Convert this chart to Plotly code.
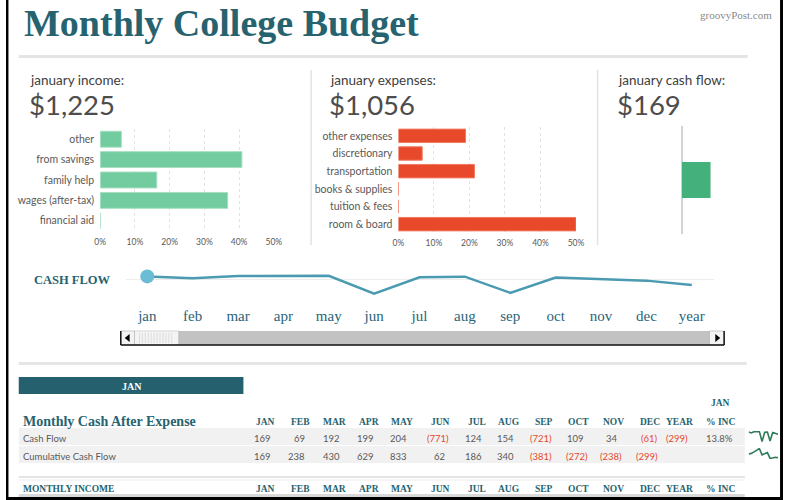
import plotly.graph_objects as go

W, H = 792, 500


def X(px):
    return px / W


def Y(py):
    return 1 - py / H


# ---------------- data ----------------
income_cats = ["other", "from savings", "family help", "wages (after-tax)", "financial aid"]
income_pct = [6.1, 40.8, 16.3, 36.7, 0.0]
expense_cats = ["other expenses", "discretionary", "transportation",
                "books & supplies", "tuition & fees", "room & board"]
expense_pct = [18.9, 6.7, 21.4, 0.0, 0.0, 50.0]
pct_ticks = [0, 10, 20, 30, 40, 50]
pct_tick_labels = ["0%", "10%", "20%", "30%", "40%", "50%"]
income_total = 1225
expense_total = 1056
months = ["jan", "feb", "mar", "apr", "may", "jun", "jul", "aug", "sep", "oct", "nov", "dec"]
cash_flow = [169, 69, 192, 199, 204, -771, 124, 154, -721, 109, 34, -61]
col_heads = ["JAN", "FEB", "MAR", "APR", "MAY", "JUN", "JUL", "AUG", "SEP", "OCT", "NOV", "DEC", "YEAR", "% INC"]
sel = 0  # selected month (jan)

cumulative = []
run = 0
for v in cash_flow:
    run += v
    cumulative.append(run)
year_total = sum(cash_flow)
line_labels = months + ["year"]
line_values = cash_flow + [year_total]
pct_inc = cash_flow[sel] / income_total * 100

# ---------------- styles ----------------
TEAL = "#26636f"
SERIF = "Liberation Serif"
SANS = "Lato"
GRAY_TXT = "#4d4d4d"
RED = "#e5492a"

fig = go.Figure()

fig.add_trace(go.Bar(x=income_pct, y=income_cats, orientation="h", width=0.78,
                     marker=dict(color="#72cc9f", line=dict(color="#a6dfc2", width=1)),
                     xaxis="x", yaxis="y", hoverinfo="skip"))
fig.add_trace(go.Bar(x=expense_pct, y=expense_cats, orientation="h", width=0.76,
                     marker=dict(color="#e8492a", line=dict(color="#f07a60", width=1)),
                     xaxis="x2", yaxis="y2", hoverinfo="skip"))
fig.add_trace(go.Bar(x=[cash_flow[sel]], y=[months[sel]], orientation="h", width=0.333,
                     marker=dict(color="#44b07c", line=dict(width=0)),
                     xaxis="x3", yaxis="y3", hoverinfo="skip"))
fig.add_trace(go.Scatter(x=line_labels, y=line_values, mode="lines",
                         line=dict(color="#4a9bb1", width=2.5),
                         xaxis="x4", yaxis="y4", hoverinfo="skip"))
fig.add_trace(go.Scatter(x=[line_labels[sel]], y=[line_values[sel]], mode="markers",
                         marker=dict(color="#6bbcd5", size=14),
                         xaxis="x4", yaxis="y4", hoverinfo="skip"))
fig.add_trace(go.Scatter(x=months, y=cash_flow, mode="lines",
                         line=dict(color="#2f7d58", width=1.6),
                         xaxis="x5", yaxis="y5", hoverinfo="skip"))
fig.add_trace(go.Scatter(x=months, y=cumulative, mode="lines",
                         line=dict(color="#2f7d58", width=1.6),
                         xaxis="x6", yaxis="y6", hoverinfo="skip"))

tickf = dict(family=SANS, size=8.5, color="#595959")
catf = dict(family=SANS, size=10.5, color="#595959")

layout = dict(
    width=W, height=H, margin=dict(l=0, r=0, t=0, b=0),
    paper_bgcolor="white", plot_bgcolor="rgba(0,0,0,0)",
    showlegend=False,
    xaxis=dict(domain=[X(96), X(273)], range=[0, 50], tickvals=pct_ticks, ticktext=pct_tick_labels,
               showgrid=True, gridcolor="#e2e2e2", griddash="dot", gridwidth=1,
               zeroline=False, showline=False, ticks="", tickfont=tickf, anchor="y",
               ticklabelstandoff=4),
    yaxis=dict(domain=[Y(231), Y(129)], autorange="reversed", type="category",
               tickfont=catf, anchor="x", showgrid=False, ticks="", ticklabelstandoff=5,
               zeroline=False, showline=False),
    xaxis2=dict(domain=[X(400), X(581)], range=[0, 50], tickvals=pct_ticks, ticktext=pct_tick_labels,
                showgrid=True, gridcolor="#e2e2e2", griddash="dot", gridwidth=1,
                zeroline=False, showline=False, ticks="", tickfont=tickf, anchor="y2",
                ticklabelstandoff=3),
    yaxis2=dict(domain=[Y(233), Y(127)], autorange="reversed", type="category",
                tickfont=catf, anchor="x2", showgrid=False, ticks="", ticklabelstandoff=5,
                zeroline=False, showline=False),
    xaxis3=dict(domain=[X(639), X(739)], range=[-290, 290], showticklabels=False,
                showgrid=False, zeroline=True, zerolinecolor="#d4d4d4", zerolinewidth=2,
                showline=False, ticks="", anchor="y3"),
    yaxis3=dict(domain=[Y(234), Y(126)], visible=False, anchor="x3"),
    xaxis4=dict(domain=[X(122), X(722)], range=[-0.476, 12.497], type="category",
                ticks="", showgrid=False, zeroline=False, showline=False, anchor="y4",
                tickfont=dict(family=SERIF, size=15, color="#2a6478"), ticklabelstandoff=0),
    yaxis4=dict(domain=[Y(305), Y(268)], range=[-1381, 623], showgrid=False, zeroline=True,
                zerolinecolor="#ececec", zerolinewidth=1, showticklabels=False, ticks="",
                showline=False, anchor="x4"),
    xaxis5=dict(domain=[X(757), X(787)], visible=False, anchor="y5"),
    yaxis5=dict(domain=[Y(442), Y(431)], visible=False, anchor="x5"),
    xaxis6=dict(domain=[X(757), X(787)], visible=False, anchor="y6"),
    yaxis6=dict(domain=[Y(459), Y(448)], visible=False, anchor="x6"),
)

shapes = []


def rect(x0, y0, x1, y1, fill, line_color=None, lw=0, layer="below"):
    shapes.append(dict(type="rect", xref="paper", yref="paper", x0=X(x0), x1=X(x1),
                       y0=Y(y1), y1=Y(y0), fillcolor=fill, layer=layer,
                       line=dict(color=line_color or fill, width=lw)))


def line(x0, y0, x1, y1, color, w, dash=None, layer="below"):
    d = dict(color=color, width=w)
    if dash:
        d["dash"] = dash
    shapes.append(dict(type="line", xref="paper", yref="paper", x0=X(x0), x1=X(x1),
                       y0=Y(y0), y1=Y(y1), line=d, layer=layer))


def tri(points, color):
    p = "M " + " L ".join(f"{X(a)},{Y(b)}" for a, b in points) + " Z"
    shapes.append(dict(type="path", xref="paper", yref="paper", path=p, fillcolor=color,
                       line=dict(color=color, width=0), layer="above"))


# separators
rect(13, 55, 756, 58, "#e4e4e4")
rect(13, 362, 755, 365, "#e6e6e6")
line(311, 70, 311, 245, "#e2e2e2", 1.5)
line(603, 70, 603, 245, "#e2e2e2", 1.5)

# scrollbar
rect(117, 331, 732, 345, "#c2c2c2")
rect(117, 331, 131, 345, "#f3f3f3", "#9a9a9a", 0.5, "above")
rect(131, 331, 176, 345, "#f4f4f4", "#b0b0b0", 0.5, "above")
for gx in range(136, 172, 3):
    line(gx, 333, gx, 343, "#dcdcdc", 1, layer="above")
rect(717, 331, 732, 345, "#f3f3f3", "#9a9a9a", 0.5, "above")
line(117, 345, 732, 345, "#111111", 1.5, layer="above")
line(117, 331, 117, 345, "#111111", 1.5, layer="above")
line(732, 331, 732, 345, "#111111", 1.5, layer="above")
tri([(121, 338), (126, 334), (126, 342)], "#000000")
tri([(728, 338), (723, 334), (723, 342)], "#000000")

# JAN box
rect(13, 377, 242, 394, "#25606f")

# table rows
rect(13, 428, 753, 445, "#f1f1f1")
rect(13, 446, 753, 463, "#f1f1f1")
line(13, 445.5, 753, 445.5, "#ffffff", 1)
rect(13, 476, 753, 478, "#e4e4e4")
line(13, 480, 753, 480, "#ececec", 1)
rect(13, 494, 753, 497, "#d9d9d9")

# black frame
rect(0, 0, 2.5, 500, "#000000", layer="above")
rect(789, 0, 792, 500, "#000000", layer="above")
rect(0, 497, 792, 500, "#000000", layer="above")

annotations = []


def text(s, x, y, size, color, family, xanchor="left", bold=False, yanchor="middle"):
    if bold:
        s = f"<b>{s}</b>"
    annotations.append(dict(text=s, x=X(x), y=Y(y), xref="paper", yref="paper",
                            showarrow=False, xanchor=xanchor, yanchor=yanchor,
                            font=dict(size=size, color=color, family=family)))


text("Monthly College Budget", 16, 23, 38, TEAL, SERIF, bold=True)
text("groovyPost.com", 783, 15, 11, "#8a8a8a", SERIF, xanchor="right")

text(f"{months[sel]}uary income:", 22, 80, 13.5, "#404040", SANS)
text(f"${income_total:,}", 21, 105, 27.5, GRAY_TXT, SANS)
text(f"{months[sel]}uary expenses:", 328, 80, 13.5, "#404040", SANS)
text(f"${expense_total:,}", 327, 105, 27.5, GRAY_TXT, SANS)
text(f"{months[sel]}uary cash flow:", 622, 80, 13.5, "#404040", SANS)
text(f"${cash_flow[sel]:,}", 621, 105, 27.5, GRAY_TXT, SANS)

text("CASH FLOW", 27, 280, 12.5, TEAL, SERIF, bold=True)
text(months[sel].upper(), 128, 386, 10, "#ffffff", SERIF, xanchor="center", bold=True)

# table
col_center = [265, 300, 335, 370, 404, 443, 480, 513, 548, 584, 619, 656, 686, 728]
text("Monthly Cash After Expense", 15, 421, 14, TEAL, SERIF, bold=True)
text("MONTHLY INCOME", 15, 489, 9.5, TEAL, SERIF, bold=True)
text(months[sel].upper(), col_center[-1], 403, 9.5, TEAL, SERIF, xanchor="center", bold=True)
for h, cx in zip(col_heads, col_center):
    text(h, cx, 422, 9.5, TEAL, SERIF, xanchor="center", bold=True)
    text(h, cx, 489, 9.5, TEAL, SERIF, xanchor="center", bold=True)

text("Cash Flow", 15, 438, 9.5, "#595959", SANS)
text("Cumulative Cash Flow", 15, 456, 9.5, "#595959", SANS)


def num(v, cx, y):
    right = cx + 11
    if v < 0:
        text(f"({-v:,})", right, y, 9.5, RED, SANS, xanchor="right")
    else:
        text(f"{v:,}", right - 4, y, 9.5, "#595959", SANS, xanchor="right")


for i, v in enumerate(cash_flow):
    num(v, col_center[i], 438)
num(year_total, col_center[12], 438)
text(f"{pct_inc:.1f}%", 743, 438, 9.5, "#595959", SANS, xanchor="right")
for i, v in enumerate(cumulative):
    num(v, col_center[i], 456)

layout["shapes"] = shapes
layout["annotations"] = annotations
fig.update_layout(**layout)

fig.write_html("out.html", config={"displayModeBar": False},
               post_script="document.body.style.margin='0';document.body.style.overflow='hidden';")
